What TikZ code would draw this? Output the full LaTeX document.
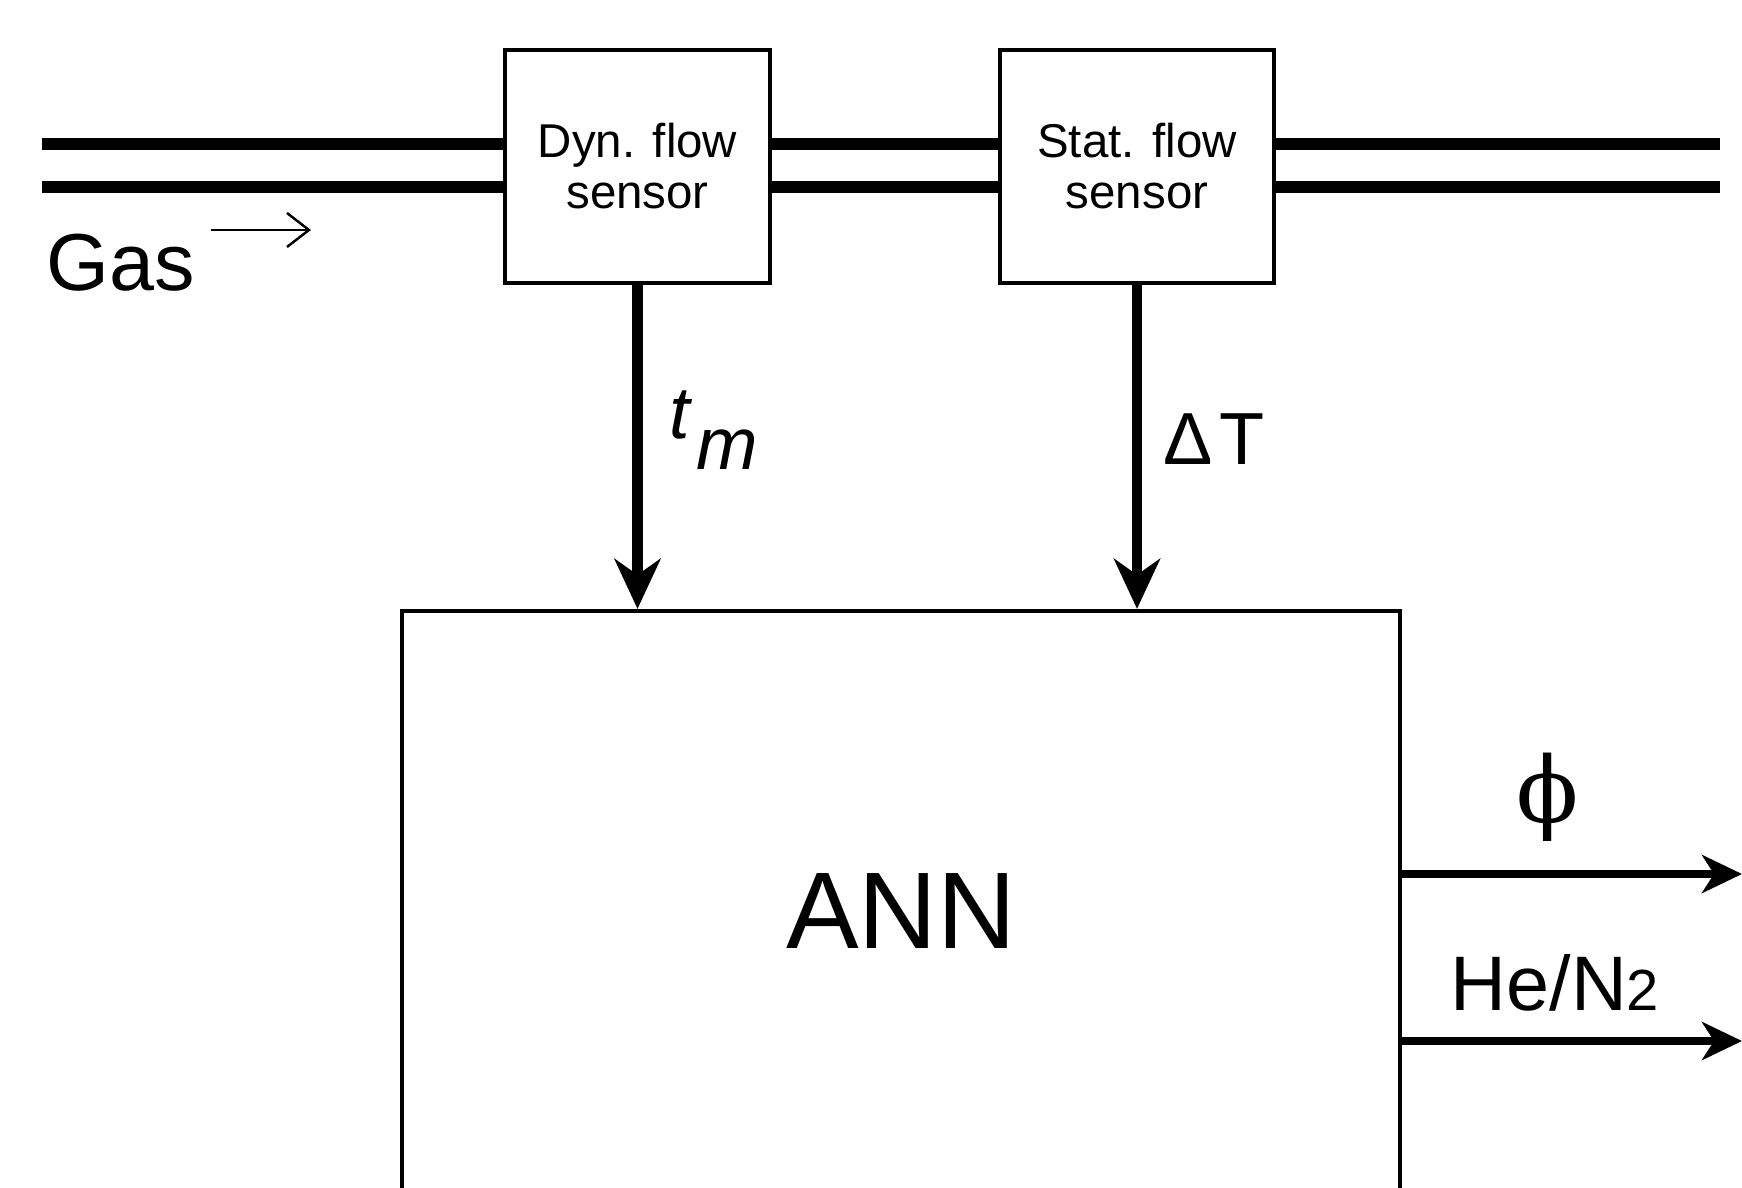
\documentclass[tikz,border=0pt]{standalone}
\usepackage{fontspec}
\setmainfont{Liberation Sans}
\newfontfamily\greekserif{DejaVu Serif}
\usetikzlibrary{arrows.meta,positioning,calc}

\begin{document}
\begin{tikzpicture}[
    sensorbox/.style={rectangle, draw=black, line width=1.2pt, fill=white,
                      minimum width=2.65cm, minimum height=2.33cm, align=center,
                      font=\fontsize{13.5}{14.5}\selectfont},
    pipe/.style={line width=3.4pt},
    sigarr/.style={-{Stealth[length=5mm, width=4.6mm, inset=1.6mm]}, line width=3pt},
    outarr/.style={-{Stealth[length=4mm, width=3.8mm, inset=1.2mm]}, line width=2.4pt},
    lbl/.style={font=\fontsize{21}{24}\selectfont}
  ]
    \useasboundingbox (0,0) rectangle (17.42,-11.87);
    \clip (0,0) rectangle (17.42,-11.87);

    % Sensors on the gas line
    \node[sensorbox]                       (dyn)  at (6.375,-1.665) {Dyn. flow\\sensor};
    \node[sensorbox, minimum width=2.74cm] (stat) at (11.37,-1.665) {Stat. flow\\sensor};

    % Neural network (runs off the bottom)
    \node[rectangle, draw=black, line width=1.2pt, minimum width=9.98cm,
          minimum height=6.0cm, font=\fontsize{31}{36}\selectfont]
      (ann) at (9.01,-9.11) {ANN};

    % Pipe ends
    \coordinate (pin)  at (0.42,-1.655);
    \coordinate (pout) at (17.20,-1.655);

    % Pipe walls
    \foreach \dy in {0.215,-0.215} {
      \draw[pipe] ($(pin)+(0,\dy)$) -- ($(pin -| dyn.west)+(0,\dy)$);
      \draw[pipe] ($(pin -| dyn.east)+(0,\dy)$) -- ($(pin -| stat.west)+(0,\dy)$);
      \draw[pipe] ($(pin -| stat.east)+(0,\dy)$) -- ($(pout)+(0,\dy)$);
    }

    % Gas flow direction
    \node[lbl, anchor=west, font=\fontsize{23}{26}\selectfont] (gas) at (0.34,-2.63) {Gas};
    \coordinate (gasA) at (2.11,-2.30);
    \coordinate (gasB) at (3.11,-2.30);
    \draw[line width=0.7pt, -{Straight Barb[length=2.2mm, width=3.4mm]}] (gasA) -- (gasB);

    % Sensor signals into the network
    \draw[sigarr] (dyn.south)  -- (dyn.south |- ann.north);
    \draw[sigarr] (stat.south) -- (stat.south |- ann.north);
    \node[lbl] (tm) at (7.14,-4.30) {\textit{t}\kern0.05em\raisebox{-0.42em}{\textit{m}}};
    \node[lbl] (dT) at (12.14,-4.39) {Δ\kern0.08em T};

    % Outputs
    \coordinate (phiend) at (17.42,-8.74);
    \coordinate (heend)  at (17.42,-10.41);
    \draw[outarr] (ann.east |- phiend) -- (phiend);
    \draw[outarr] (ann.east |- heend)  -- (heend);
    \node[font=\greekserif\fontsize{26}{30}\selectfont] (phi) at (15.48,-7.97) {ϕ};
    \node[lbl, font=\fontsize{22}{26}\selectfont] (hen) at (15.55,-9.83) {He/N{\fontsize{16.5}{18}\selectfont 2}};
  \end{tikzpicture}
\end{document}
